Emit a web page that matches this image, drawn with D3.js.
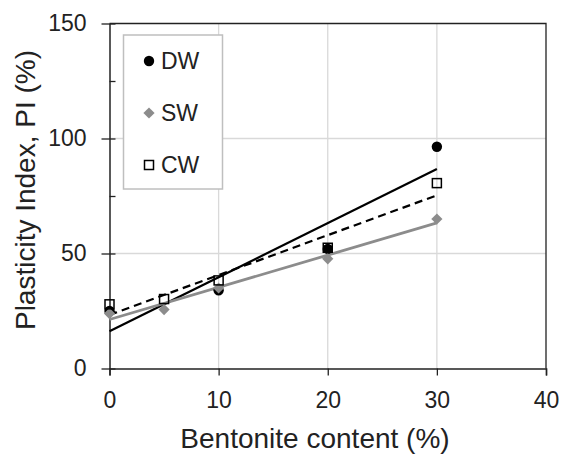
<!DOCTYPE html>
<html lang="en">
<head>
<meta charset="utf-8">
<title>Plasticity index vs bentonite content</title>
<script src="https://d3js.org/d3.v7.min.js"></script>
<style type="text/css">
body { margin: 0; background: #fff; }
text { font-family: "Liberation Sans", Arial, sans-serif; fill: #222; }
</style>
</head>
<body>
<script type="text/javascript">

// chart size
const width = 561;
const height = 454;

// data
const series = ["DW", "SW", "CW"];
const dwPoints = [[0, 25], [10, 34], [20, 52], [30, 96.4]];
const swPoints = [[0, 23.9], [5, 25.6], [10, 35], [20, 47.7], [30, 65]];
const cwPoints = [[0, 27.9], [5, 30.2], [10, 38.3], [20, 52.5], [30, 80.6]];

// linear trend lines, [x0, y0, x1, y1]
const dwTrend = [0, 16.2, 30, 86.7];
const swTrend = [0, 21.3, 30, 63.3];
const cwTrend = [0, 23.3, 30, 75.3];

const xTicks = [0, 10, 20, 30, 40];
const yTicks = [0, 25, 50, 75, 100, 125, 150];
const yGrid = [50, 100];
const xGrid = [10, 20, 30];

var x = d3.scaleLinear().domain([0, 40]).range([109.5, 546]);
var y = d3.scaleLinear().domain([0, 150]).range([368.5, 23.5]);

var svg = d3.select("body")
  .append("svg")
  .attr("width", width)
  .attr("height", height);

// gridlines
svg.append("g").selectAll("line")
  .data(yGrid)
  .enter().append("line")
    .attr("x1", x(0)).attr("x2", x(40))
    .attr("y1", d => y(d)).attr("y2", d => y(d))
    .attr("stroke", "#d9d9d9").attr("stroke-width", 1.3);

svg.append("g").selectAll("line")
  .data(xGrid)
  .enter().append("line")
    .attr("x1", d => x(d)).attr("x2", d => x(d))
    .attr("y1", y(0)).attr("y2", y(150))
    .attr("stroke", "#d9d9d9").attr("stroke-width", 1.3);

// plot frame (top + right)
svg.append("path")
  .attr("d", `M${x(0)},${y(150)}H${x(40)}V${y(0)}`)
  .attr("fill", "none")
  .attr("stroke", "#222")
  .attr("stroke-width", 1.3);

// axes
var yAxis = svg.append("g")
  .attr("transform", `translate(${x(0)},0)`)
  .call(d3.axisLeft(y).tickValues(yTicks).tickSize(0).tickPadding(23)
    .tickFormat(d => d % 50 === 0 ? d : ""));
yAxis.select(".domain").attr("stroke", "#222").attr("stroke-width", 1.5);
yAxis.selectAll(".tick line")
  .attr("x1", d => d % 50 === 0 ? -8 : 0)
  .attr("x2", 6)
  .attr("stroke", "#222").attr("stroke-width", 1.3);
yAxis.selectAll(".tick text")
  .style("font-size", "23px")
  .attr("fill", "#222");

var xAxis = svg.append("g")
  .attr("transform", `translate(0,${y(0)})`)
  .call(d3.axisBottom(x).tickValues(xTicks).tickSize(7).tickPadding(16));
xAxis.select(".domain").attr("stroke", "#222").attr("stroke-width", 1.5);
xAxis.selectAll(".tick line").attr("stroke", "#222").attr("stroke-width", 1.3);
xAxis.selectAll(".tick text")
  .style("font-size", "23px")
  .attr("fill", "#222");

// trend lines
function trend(t, color, w, dash) {
  svg.append("line")
    .attr("x1", x(t[0])).attr("y1", y(t[1]))
    .attr("x2", x(t[2])).attr("y2", y(t[3]))
    .attr("stroke", color)
    .attr("stroke-width", w)
    .attr("stroke-dasharray", dash);
}
trend(dwTrend, "#000", 2.2, null);
trend(cwTrend, "#000", 2.2, "8,5");
trend(swTrend, "#8c8c8c", 2.8, null);

// markers
var diamond = d3.symbol().type(d3.symbolDiamond2).size(80);

svg.append("g").selectAll("circle")
  .data(dwPoints)
  .enter().append("circle")
    .attr("cx", d => x(d[0]))
    .attr("cy", d => y(d[1]))
    .attr("r", 5.2)
    .attr("fill", "#000");

svg.append("g").selectAll("path")
  .data(swPoints)
  .enter().append("path")
    .attr("d", diamond)
    .attr("transform", d => `translate(${x(d[0])},${y(d[1])})`)
    .attr("fill", "#8c8c8c");

svg.append("g").selectAll("rect")
  .data(cwPoints)
  .enter().append("rect")
    .attr("x", d => x(d[0]) - 4.5)
    .attr("y", d => y(d[1]) - 4.5)
    .attr("width", 9).attr("height", 9)
    .attr("fill", "none")
    .attr("stroke", "#000")
    .attr("stroke-width", 1.5);

// legend
var legend = svg.append("g");
legend.append("rect")
  .attr("x", 123.5).attr("y", 35)
  .attr("width", 99).attr("height", 154)
  .attr("fill", "#fff")
  .attr("stroke", "#bfbfbf")
  .attr("stroke-width", 1.5);

var legendY = d3.scalePoint().domain(series).range([61, 165]);
var lx = 149;

legend.append("circle")
  .attr("cx", lx).attr("cy", legendY("DW")).attr("r", 5.2).attr("fill", "#000");
legend.append("path")
  .attr("d", diamond)
  .attr("transform", `translate(${lx},${legendY("SW")})`)
  .attr("fill", "#8c8c8c");
legend.append("rect")
  .attr("x", lx - 4.5).attr("y", legendY("CW") - 4.5)
  .attr("width", 9).attr("height", 9)
  .attr("fill", "none").attr("stroke", "#000").attr("stroke-width", 1.5);

legend.selectAll("text")
  .data(series)
  .enter().append("text")
    .attr("x", lx + 12)
    .attr("y", d => legendY(d) + 8)
    .style("font-size", "23px")
    .text(d => d);

// axis titles
svg.append("text")
  .attr("x", 315)
  .attr("y", 448)
  .attr("text-anchor", "middle")
  .style("font-size", "28px")
  .text("Bentonite content (%)");

svg.append("text")
  .attr("transform", "translate(35,190) rotate(-90)")
  .attr("text-anchor", "middle")
  .style("font-size", "28px")
  .text("Plasticity Index, PI (%)");

</script>
</body>
</html>
